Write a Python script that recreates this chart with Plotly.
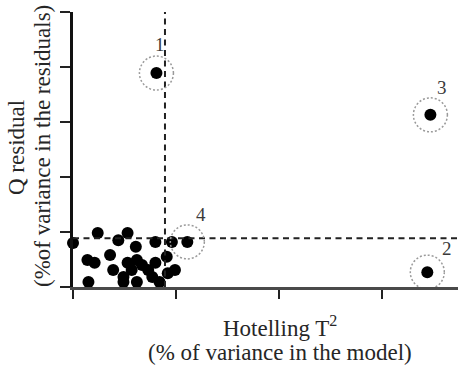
import plotly.graph_objects as go

# Hotelling T^2 (x) vs Q residual (y) for each sample
hotelling_t2 = [0.00, 0.24, 0.44, 0.53, 0.61, 0.80, 0.96, 0.14, 0.21, 0.36,
                0.39, 0.49, 0.49, 0.53, 0.62, 0.67, 0.73, 0.80, 0.77, 0.62,
                0.84, 0.91, 0.92, 0.99, 0.15, 0.57]
q_residual = [0.80, 0.98, 0.85, 0.98, 0.73, 0.82, 0.82, 0.49, 0.44, 0.58,
              0.31, 0.18, 0.09, 0.44, 0.49, 0.40, 0.31, 0.44, 0.18, 0.09,
              0.09, 0.55, 0.25, 0.31, 0.09, 0.31]

# Flagged outlier samples
outlier_ids = ["1", "2", "3", "4"]
outlier_t2 = [0.81, 3.44, 3.47, 1.11]
outlier_q = [3.89, 0.27, 3.13, 0.82]

# 95% confidence limits
t2_limit = 0.893
q_limit = 0.885

x_max = 3.738
y_max = 5

serif = "Liberation Serif, Times New Roman, serif"
text_color = "#262626"

fig = go.Figure()

fig.add_trace(go.Scatter(
    x=hotelling_t2 + outlier_t2,
    y=q_residual + outlier_q,
    mode="markers",
    marker=dict(size=12, color="black", line=dict(width=0)),
    cliponaxis=False,
    showlegend=False,
    hoverinfo="skip",
))

shapes = [
    dict(type="line", xref="x", yref="y", x0=t2_limit, x1=t2_limit, y0=0, y1=y_max,
         line=dict(color="#222", width=2, dash="6px,4.5px")),
    dict(type="line", xref="x", yref="y", x0=0, x1=x_max, y0=q_limit, y1=q_limit,
         line=dict(color="#222", width=2, dash="6px,4.5px")),
]
for ox, oy in zip(outlier_t2, outlier_q):
    shapes.append(dict(
        type="circle", xref="x", yref="y",
        xsizemode="pixel", ysizemode="pixel",
        xanchor=ox, yanchor=oy,
        x0=-17, x1=17, y0=-17, y1=17,
        line=dict(color="#9a9a9a", width=1.5, dash="2px,2px"),
    ))

# label offsets (pixels) for outlier numbers
label_shift = {"1": (4, 29), "2": (20, 24), "3": (12, 27), "4": (14, 27)}
annotations = []
for lab, ox, oy in zip(outlier_ids, outlier_t2, outlier_q):
    dx, dy = label_shift[lab]
    annotations.append(dict(
        x=ox, y=oy, xref="x", yref="y", text=lab, showarrow=False,
        xshift=dx, yshift=dy, font=dict(family=serif, size=19, color="#3a3a3a"),
    ))

# axis titles (two lines each), placed in pixel terms of the plot area
plot_w, plot_h = 385, 275
def px_x(p):
    return (p - 73) / plot_w
def px_y(p):
    return (287 - p) / plot_h

annotations += [
    dict(text="Hotelling T<sup>2</sup>", xref="paper", yref="paper",
         x=px_x(280), y=px_y(326), showarrow=False, xanchor="center", yanchor="middle",
         font=dict(family=serif, size=23, color=text_color)),
    dict(text="(% of variance in the model)", xref="paper", yref="paper",
         x=px_x(280), y=px_y(352), showarrow=False, xanchor="center", yanchor="middle",
         font=dict(family=serif, size=23, color=text_color)),
    dict(text="Q residual", xref="paper", yref="paper",
         x=px_x(16), y=px_y(148), showarrow=False, xanchor="center", yanchor="middle",
         textangle=-90, font=dict(family=serif, size=23, color=text_color)),
    dict(text="(%of variance in the residuals)", xref="paper", yref="paper",
         x=px_x(42), y=px_y(146), showarrow=False, xanchor="center", yanchor="middle",
         textangle=-90, font=dict(family=serif, size=23, color=text_color)),
]

fig.update_layout(
    width=458, height=368, autosize=False,
    margin=dict(l=73, r=0, t=12, b=81, pad=0),
    paper_bgcolor="white", plot_bgcolor="white",
    shapes=shapes, annotations=annotations,
    xaxis=dict(range=[0, x_max], dtick=1, tick0=0, showgrid=False, zeroline=False,
               showline=True, linecolor="#4a4a4a", linewidth=3,
               ticks="outside", ticklen=9, tickwidth=2, tickcolor="#222",
               showticklabels=False, fixedrange=True),
    yaxis=dict(range=[0, y_max], dtick=1, tick0=0, showgrid=False, zeroline=False,
               showline=True, linecolor="#111", linewidth=2.5,
               ticks="outside", ticklen=10, tickwidth=2, tickcolor="#222",
               showticklabels=False, fixedrange=True),
)

fig.write_html("out.html")
